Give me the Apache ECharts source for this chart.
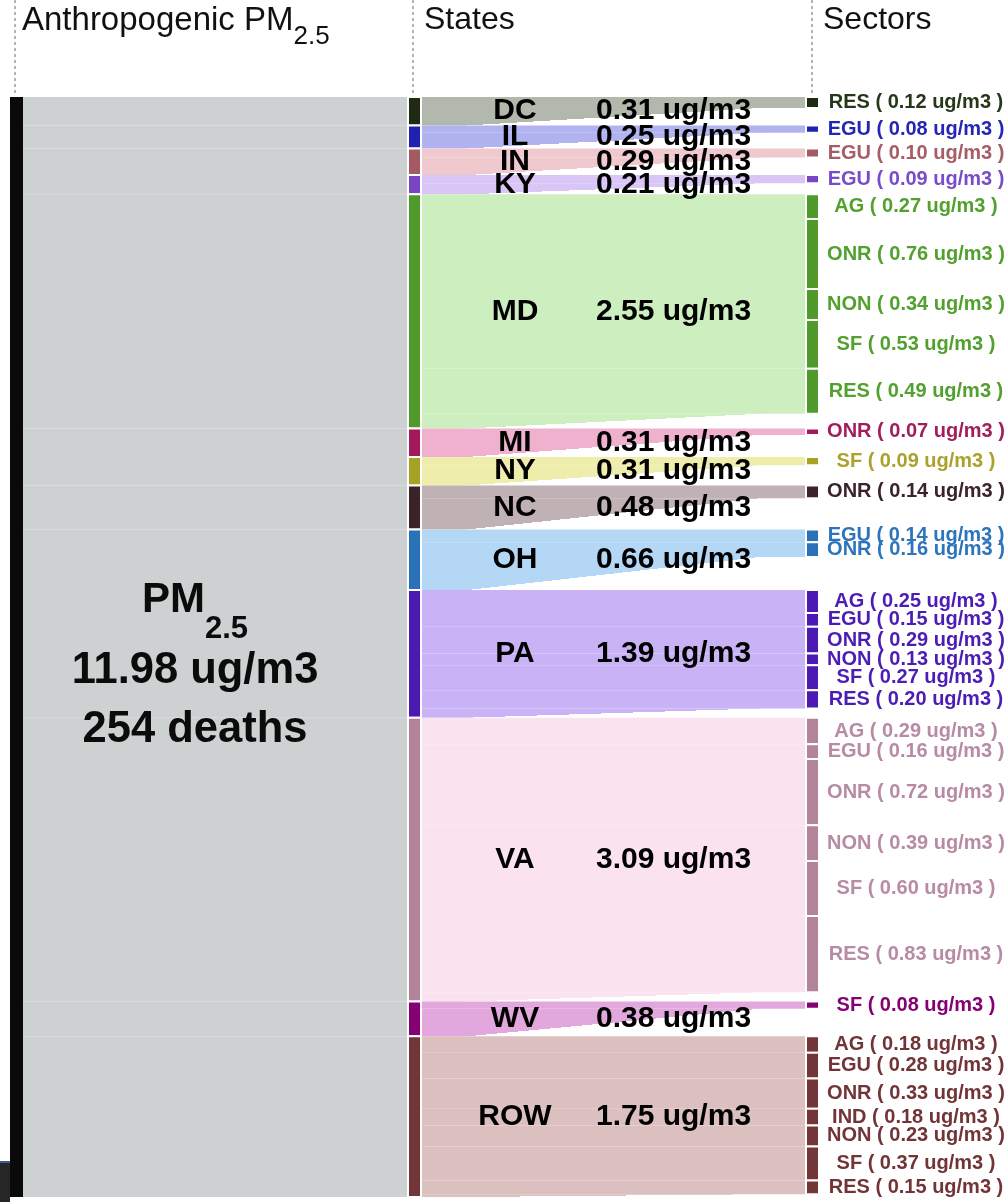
<!DOCTYPE html>
<html>
<head>
<meta charset="utf-8">
<script src="https://cdn.jsdelivr.net/npm/echarts@6/dist/echarts.min.js"></script>
<style>html,body{margin:0;padding:0;background:#fff}#c{width:1007px;height:1202px}</style>
</head>
<body>
<div id="c"></div>
<script>
// ---------------- data ----------------
const sourceName = 'PM';
const sourceSub = '2.5';
const totalConc = 11.98;
const totalDeaths = 254;
const columnTitles = ['Anthropogenic PM', 'States', 'Sectors'];
const states = ['DC', 'IL', 'IN', 'KY', 'MD', 'MI', 'NY', 'NC', 'OH', 'PA', 'VA', 'WV', 'ROW'];
const stateValues = [0.31, 0.25, 0.29, 0.21, 2.55, 0.31, 0.31, 0.48, 0.66, 1.39, 3.09, 0.38, 1.75];
const sectorNames = [
  ['RES'], ['EGU'], ['EGU'], ['EGU'],
  ['AG', 'ONR', 'NON', 'SF', 'RES'],
  ['ONR'], ['SF'], ['ONR'],
  ['EGU', 'ONR'],
  ['AG', 'EGU', 'ONR', 'NON', 'SF', 'RES'],
  ['AG', 'EGU', 'ONR', 'NON', 'SF', 'RES'],
  ['SF'],
  ['AG', 'EGU', 'ONR', 'IND', 'NON', 'SF', 'RES']
];
const sectorValues = [
  [0.12], [0.08], [0.10], [0.09],
  [0.27, 0.76, 0.34, 0.53, 0.49],
  [0.07], [0.09], [0.14],
  [0.14, 0.16],
  [0.25, 0.15, 0.29, 0.13, 0.27, 0.20],
  [0.29, 0.16, 0.72, 0.39, 0.60, 0.83],
  [0.08],
  [0.18, 0.28, 0.33, 0.18, 0.23, 0.37, 0.15]
];

// ---------------- styles ----------------
const palette = {
  DC:  {node: '#1e2a12', link: '#b3b8ad', text: '#263818'},
  IL:  {node: '#1f22b0', link: '#b1b3f1', text: '#2526b4'},
  IN:  {node: '#a35a63', link: '#efc9cd', text: '#a85c66'},
  KY:  {node: '#7845c3', link: '#d9c5f6', text: '#7a4cc8'},
  MD:  {node: '#4f9a2b', link: '#cdeebf', text: '#52a02e'},
  MI:  {node: '#a3195b', link: '#efb1cd', text: '#a31d5d'},
  NY:  {node: '#a7a125', link: '#efedab', text: '#aaa22b'},
  NC:  {node: '#3c2329', link: '#c0b1b5', text: '#3a2429'},
  OH:  {node: '#2a72b7', link: '#b5d7f6', text: '#2c74bc'},
  PA:  {node: '#4c19b2', link: '#c9b3f6', text: '#4c1db4'},
  VA:  {node: '#b28399', link: '#fae3ef', text: '#b88ba4'},
  WV:  {node: '#850073', link: '#e2a8dd', text: '#850073'},
  ROW: {node: '#723638', link: '#dcc0c0', text: '#723436'}
};
const FONT = '"Liberation Sans", Arial, Helvetica, sans-serif';
const GRAY_LINK = '#cdd1d2';
const box = {left: 10, top: 97, width: 809, height: 1100};
const nodeW = 13;
const bandW = (box.width - nodeW) / 2 - nodeW;
const ky = box.height / totalConc;
const TAPER = 0.12; // fraction of band length kept flat at each end of the taper

// gradient with a hard edge along the line (TAPER, bottom) -> (1-TAPER, top) of a link's box
function taperFill(color, h) {
  const Wp = bandW * (1 - 2 * TAPER);
  const c = (1 - TAPER) / (1 - 2 * TAPER);
  const q = 1 / (Wp * Wp) + 1 / (h * h);
  const k = 2 * c / q;                 // puts the edge at offset 0.5
  const clear = 'rgba(255,255,255,0)';
  return {
    type: 'linear', x: 0, y: 0, x2: k / (Wp * bandW), y2: k / (h * h),
    colorStops: [
      {offset: 0, color: color},
      {offset: 0.4995, color: color},
      {offset: 0.5, color: clear},
      {offset: 1, color: clear}
    ]
  };
}

// ---------------- build graph ----------------
const nodes = [];
const links = [];
const txt = (size, color, extra) => Object.assign({fontSize: size, fontWeight: 'bold', fontFamily: FONT, color: color}, extra || {});

nodes.push({
  name: sourceName,
  itemStyle: {color: '#0a0a0a', borderWidth: 0},
  label: {
    position: 'right', distance: 2, width: 340, offset: [0, 24],
    formatter: '{pm|' + sourceName + '}{sub|' + sourceSub + '}\n{big|' + totalConc.toFixed(2) + ' ug/m3}\n{big2|' + totalDeaths + ' deaths}',
    rich: {
      pm: txt(42, '#0b0b0b', {align: 'center', verticalAlign: 'top'}),
      sub: txt(31, '#0b0b0b', {align: 'center', verticalAlign: 'bottom', lineHeight: 66}),
      big: txt(43.5, '#0b0b0b', {align: 'center', lineHeight: 52}),
      big2: txt(43.5, '#0b0b0b', {align: 'center', lineHeight: 66})
    }
  }
});

states.forEach((s, i) => {
  const p = palette[s];
  nodes.push({
    name: s,
    itemStyle: {color: p.node, borderColor: '#ffffff', borderWidth: 2},
    label: {
      position: 'right', distance: 12,
      formatter: '{n|' + s + '}{v|' + stateValues[i].toFixed(2) + ' ug/m3}',
      rich: {
        n: txt(30, '#000', {width: 162, align: 'center'}),
        v: txt(30, '#000', {align: 'left'})
      }
    }
  });
  links.push({source: sourceName, target: s, value: stateValues[i], lineStyle: {color: GRAY_LINK, opacity: 1}});
});

states.forEach((s, i) => {
  const p = palette[s];
  let sum = 0;
  sectorNames[i].forEach((sec, j) => {
    const v = sectorValues[i][j];
    sum += v;
    const nm = s + ' ' + sec;
    nodes.push({
      name: nm,
      itemStyle: {color: p.node, borderColor: '#ffffff', borderWidth: 2},
      label: {
        position: 'right', distance: 4,
        formatter: '{s|' + sec + ' ( ' + v.toFixed(2) + ' ug/m3 )}',
        rich: {s: txt(20, p.text, {width: 184, align: 'center'})}
      }
    });
    links.push({source: s, target: nm, value: v, lineStyle: {color: p.link, opacity: 1}});
  });
  // remainder of the state not attributed to a listed sector: invisible sink, tapered band
  const rest = stateValues[i] - sum;
  if (rest > 1e-6) {
    const nm = s + ' rest';
    nodes.push({name: nm, itemStyle: {color: 'rgba(0,0,0,0)', borderWidth: 0}, label: {show: false}});
    links.push({
      source: s, target: nm, value: rest,
      lineStyle: {opacity: 1, color: taperFill(p.link, rest * ky)}
    });
  }
});

// ---------------- chart ----------------
const chart = echarts.init(document.getElementById('c'), null, {renderer: 'canvas'});
const dash = {stroke: '#9c9c9c', lineWidth: 1.5, lineDash: [3, 3]};
chart.setOption({
  animation: false,
  backgroundColor: '#ffffff',
  series: [{
    type: 'sankey',
    left: box.left, top: box.top, width: box.width, height: box.height,
    nodeWidth: nodeW, nodeGap: 0, layoutIterations: 0,
    draggable: false,
    emphasis: {disabled: true},
    label: {show: true, position: 'right', fontFamily: FONT},
    lineStyle: {opacity: 1, curveness: 0.5},
    data: nodes,
    links: links
  }],
  graphic: [
    {type: 'line', shape: {x1: 15, y1: 0, x2: 15, y2: 95}, style: dash, silent: true},
    {type: 'line', shape: {x1: 413, y1: 0, x2: 413, y2: 95}, style: dash, silent: true},
    {type: 'line', shape: {x1: 812, y1: 0, x2: 812, y2: 95}, style: dash, silent: true},
    {type: 'text', x: 22, y: 4, silent: true, style: {
      text: '{a|' + columnTitles[0] + '}{b|' + sourceSub + '}',
      verticalAlign: 'top',
      rich: {
        a: {fontSize: 33, fontFamily: FONT, fill: '#111', verticalAlign: 'top'},
        b: {fontSize: 26, fontFamily: FONT, fill: '#111', verticalAlign: 'bottom', lineHeight: 46}
      }
    }},
    {type: 'text', x: 424, y: 4, silent: true, style: {text: columnTitles[1], fontSize: 32, fontFamily: FONT, fill: '#111', verticalAlign: 'top'}},
    {type: 'text', x: 823, y: 4, silent: true, style: {text: columnTitles[2], fontSize: 32, fontFamily: FONT, fill: '#111', verticalAlign: 'top'}},
    {type: 'rect', shape: {x: 0, y: 1161, width: 10, height: 41}, style: {fill: '#262626'}, silent: true},
    {type: 'rect', shape: {x: 0, y: 1161, width: 10, height: 2}, style: {fill: '#3a5a9c'}, silent: true}
  ]
});
</script>
</body>
</html>
